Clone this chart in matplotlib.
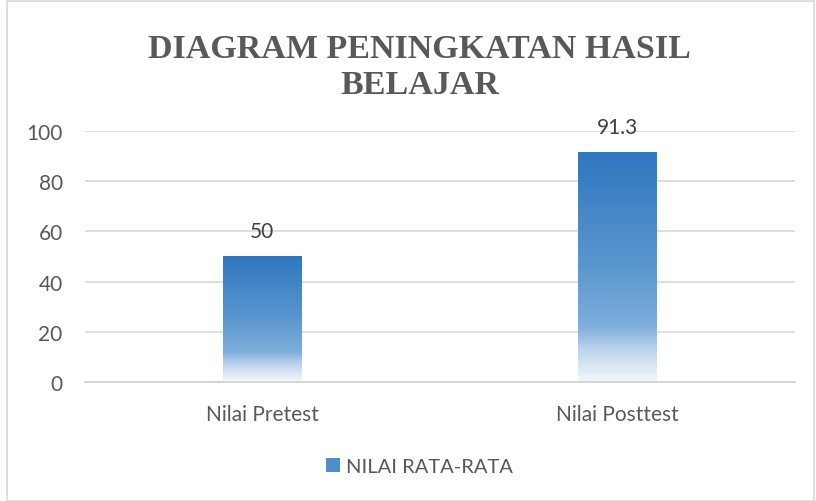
import numpy as np
import matplotlib
matplotlib.use("Agg")
import matplotlib.pyplot as plt
from matplotlib.colors import LinearSegmentedColormap
from matplotlib.patches import Rectangle

# data
categories = ["Nilai Pretest", "Nilai Posttest"]
values = [50, 91.3]
value_labels = ["50", "91.3"]
series_name = "NILAI RATA-RATA"
title = "DIAGRAM PENINGKATAN HASIL\nBELAJAR"
yticks = [0, 20, 40, 60, 80, 100]

plt.rcParams["font.family"] = ["Lato", "DejaVu Sans"]

# gradient used inside the bars: top (0) -> bottom (1)
grad_cmap = LinearSegmentedColormap.from_list(
    "bar_grad",
    [(0.0, "#2F77BF"), (0.5, "#5B97CF"), (0.76, "#7EAEDC"),
     (0.86, "#BCD4EC"), (1.0, "#F4F8FC")])

fig = plt.figure(figsize=(8.16, 5.02), dpi=100)
ax = fig.add_axes([0.104, 0.237, 0.870, 0.500])

x = np.arange(len(categories))
bars = ax.bar(x, values, width=0.22, color="none", zorder=2)

grad = np.linspace(0, 1, 256).reshape(-1, 1)
for b in bars:
    x0, w, h = b.get_x(), b.get_width(), b.get_height()
    ax.imshow(grad, cmap=grad_cmap, extent=[x0, x0 + w, 0, h],
              aspect="auto", origin="upper", zorder=2, interpolation="bilinear")

for xi, v, lab in zip(x, values, value_labels):
    ax.annotate(lab, (xi, v), xytext=(0, 18.5), textcoords="offset points",
                ha="center", va="center", fontsize=15, color="#404040")

ax.set_xlim(-0.5, len(categories) - 0.5)
ax.set_ylim(0, 100)
ax.set_yticks(yticks)
ax.set_xticks(x)
ax.set_xticklabels(categories)
ax.tick_params(axis="both", length=0, labelsize=15, colors="#595959")
ax.tick_params(axis="x", pad=16)
ax.tick_params(axis="y", pad=16)
ax.yaxis.grid(True, color="#D9D9D9", linewidth=1.2, zorder=0)
ax.set_axisbelow(True)
for s in ["top", "right", "left"]:
    ax.spines[s].set_visible(False)
ax.spines["bottom"].set_color("#D0D0D0")
ax.spines["bottom"].set_linewidth(1.2)

fig.text(0.514, 0.865, title, ha="center", va="center", fontsize=24.5,
         fontweight="bold", family="Liberation Serif", color="#595959",
         linespacing=1.2)

# legend
leg_handle = Rectangle((0, 0), 1, 1, facecolor="#4F8DCB")
fig.legend([leg_handle], [series_name], loc="center", bbox_to_anchor=(0.514, 0.068),
           frameon=False, fontsize=14.5, handlelength=0.7, handleheight=0.7,
           handletextpad=0.3, labelcolor="#595959")

# chart border
fig.patches.append(Rectangle((0.009, 0.0), 0.989, 0.997, transform=fig.transFigure,
                             fill=False, edgecolor="#D9D9D9", linewidth=1.2))

fig.savefig("out.png", dpi=100)
